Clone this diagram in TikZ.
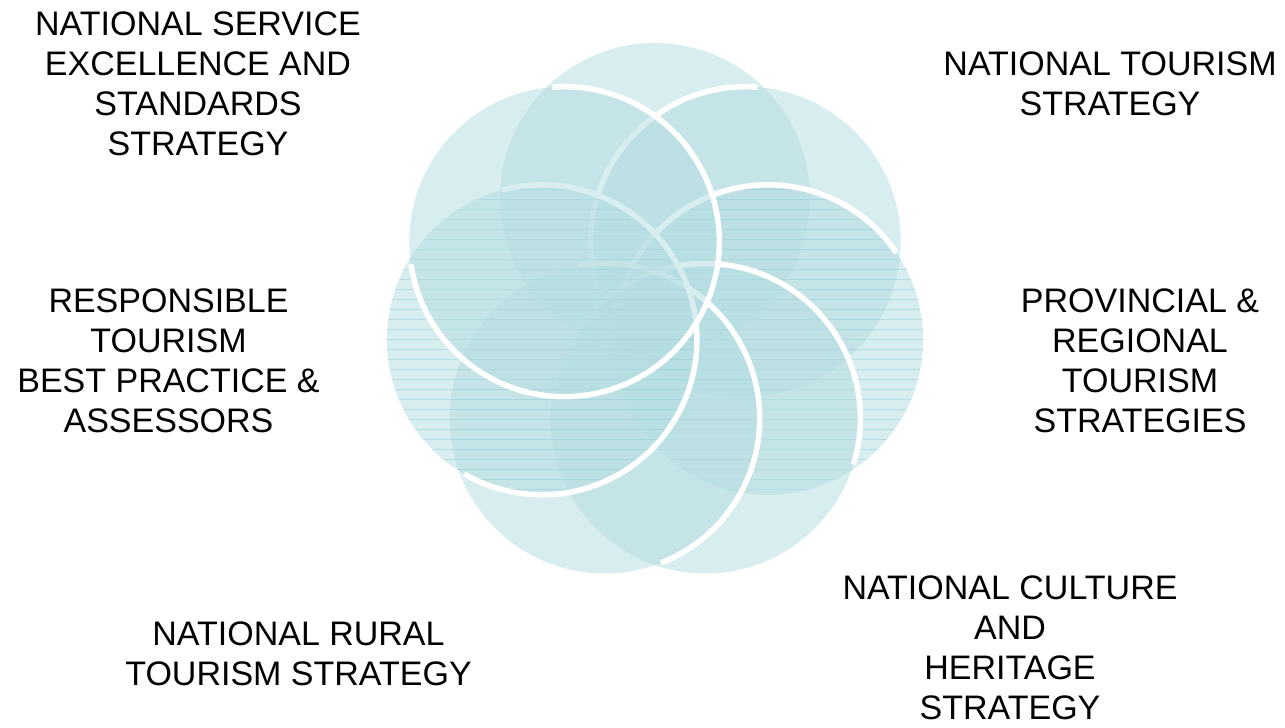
\documentclass[tikz,border=0pt]{standalone}
\usepackage{fontspec}
\setmainfont{Liberation Sans}
\usetikzlibrary{calc}
\definecolor{petalfill}{HTML}{B5DDE2}
\definecolor{hatchcol}{HTML}{8CCBD3}
\begin{document}
\begin{tikzpicture}[x=1pt,y=1pt,
  petal/.style={fill=petalfill, fill opacity=0.53},
  rim/.style={draw=white, line width=5.5pt},
  hatchline/.style={draw=hatchcol, line width=0.9pt, draw opacity=0.45},
  lbl/.style={font=\fontsize{34}{40}\selectfont, align=center, inner sep=0pt, text=black}]
\useasboundingbox (0,0) rectangle (1285,728);
\coordinate (F) at (655,414);
\foreach \i/\s/\e/\h in {1/0/0/0, 2/85.6/200/0, 3/34.1/190/1, 4/-17.3/170/0, 5/-68.7/100/0, 6/-120.1/105/1, 7/-171.6/94.4/0} {
  \pgfmathsetmacro{\t}{90-(\i-1)*360/7}
  \coordinate (c\i) at ($(F)+(\t:116)$);
  \fill[petal] (c\i) circle (155);
  \ifnum\h=1
    \begin{scope}
      \clip (c\i) circle (155);
      \foreach \k in {0,...,32} {
        \draw[hatchline] ($(c\i)+(-160,-160+\k*10)$) -- ++(320,0);
      }
    \end{scope}
  \fi
  \ifnum\i>1
    \draw[rim] ($(c\i)+(\s:155)$) arc[start angle=\s, end angle=\e, radius=155];
  \fi
}
\node[lbl] (l1) at (198,644) {NATIONAL SERVICE\\EXCELLENCE AND\\STANDARDS\\STRATEGY};
\node[lbl] (l2) at (1110,644) {NATIONAL TOURISM\\STRATEGY};
\node[lbl] (l3) at (1140,367) {PROVINCIAL \&\\REGIONAL\\TOURISM\\STRATEGIES};
\node[lbl] (l4) at (1010,80) {NATIONAL CULTURE\\AND\\HERITAGE\\STRATEGY};
\node[lbl] (l5) at (298.5,74) {NATIONAL RURAL\\TOURISM STRATEGY};
\node[lbl] (l6) at (168.5,367) {RESPONSIBLE\\TOURISM\\BEST PRACTICE \&\\ASSESSORS};
\end{tikzpicture}
\end{document}
